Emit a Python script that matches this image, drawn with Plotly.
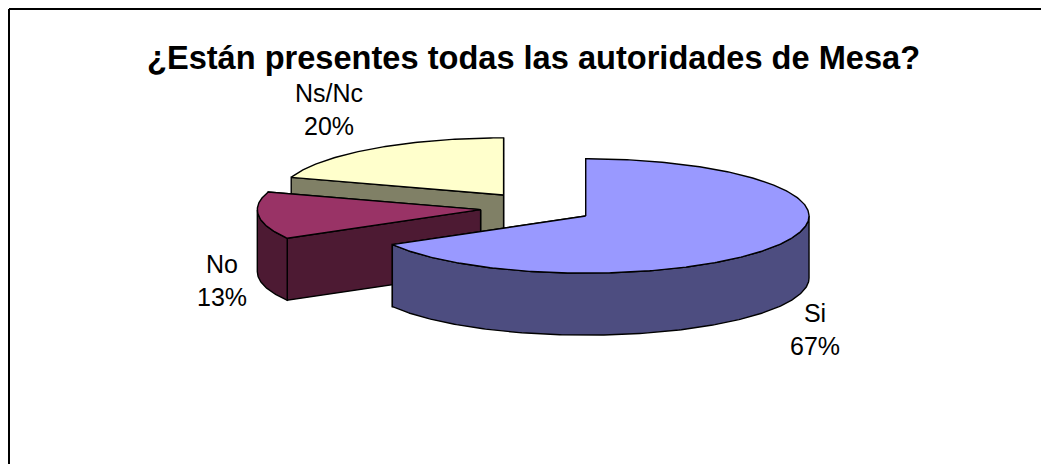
import math
import plotly.graph_objects as go

# ---- data ----
categories = ["Si", "No", "Ns/Nc"]
counts = [10, 2, 3]
title_text = "¿Están presentes todas las autoridades de Mesa?"

# ---- styles ----
top_colors = ["#9999FF", "#993366", "#FFFFCC"]
side_colors = ["#4D4D80", "#4D1A33", "#808066"]
label_centres = [(815, 329), (222, 280), (329, 109)]

# ---- projection of the 3-D pie onto the page (axes are page pixels) ----
CX, CY = 536.8, 208.0
RX, RY = 223.3, 57.2
DEPTH = 62.0
EXPLODE_X, EXPLODE_Y = 56.5, 16.0
PAGE_W, PAGE_H = 1049, 464
BODY = 8  # the page's own margin round the figure
W, H = PAGE_W - BODY, PAGE_H - BODY


def rim(apex, deg, drop=0.0):
    t = math.radians(deg)
    return apex[0] + RX * math.sin(t), apex[1] - RY * math.cos(t) + drop


def arc(apex, a0, a1, drop=0.0):
    n = max(2, int(abs(a1 - a0) * 1.5))
    return [rim(apex, a0 + (a1 - a0) * i / n, drop) for i in range(n + 1)]


def polygon(points, fill):
    xs = [p[0] for p in points] + [points[0][0]]
    ys = [p[1] for p in points] + [points[0][1]]
    return go.Scatter(x=xs, y=ys, mode="lines", fill="toself", fillcolor=fill,
                      line=dict(color="#000000", width=1.4), hoverinfo="skip",
                      showlegend=False)


fig = go.Figure()
total = sum(counts)
spans = []
start = 0.0
for v in counts:
    spans.append((start, start + 360.0 * v / total))
    start += 360.0 * v / total

# painter's order: back slice first, front slice last
for idx in sorted(range(len(counts)), reverse=True):
    a0, a1 = spans[idx]
    mid = math.radians((a0 + a1) / 2)
    apex = (CX + EXPLODE_X * math.sin(mid), CY - EXPLODE_Y * math.cos(mid))
    low = (apex[0], apex[1] + DEPTH)
    for a in (a1, a0):
        fig.add_trace(polygon([apex, rim(apex, a), rim(apex, a, DEPTH), low], side_colors[idx]))
    r0, r1 = max(a0, 90.0), min(a1, 270.0)
    if r1 > r0:
        fig.add_trace(polygon(arc(apex, r0, r1) + arc(apex, r1, r0, DEPTH), side_colors[idx]))
    fig.add_trace(polygon([apex] + arc(apex, a0, a1), top_colors[idx]))

FONT = "Liberation Sans, Arial, sans-serif"
annotations = [
    dict(x=533, y=57, xref="x", yref="y", text="<b>" + title_text + "</b>",
         showarrow=False, xanchor="center", yanchor="middle",
         font=dict(family=FONT, size=32.6, color="#000000"))
]
for name, v, (lx, ly) in zip(categories, counts, label_centres):
    annotations.append(dict(x=lx, y=ly, xref="x", yref="y",
                            text=f"{name}<br>{round(100 * v / total)}%",
                            showarrow=False, xanchor="center", yanchor="middle",
                            font=dict(family=FONT, size=25, color="#000000")))

frame = dict(color="#000000", width=2)
shapes = [
    dict(type="line", xref="x", yref="y", x0=9, x1=PAGE_W, y0=9, y1=9, line=frame),
    dict(type="line", xref="x", yref="y", x0=9, x1=9, y0=9, y1=PAGE_H, line=frame),
]

fig.update_layout(
    width=W, height=H, margin=dict(l=0, r=0, t=0, b=0, pad=0),
    paper_bgcolor="#FFFFFF", plot_bgcolor="#FFFFFF", showlegend=False,
    xaxis=dict(range=[BODY, PAGE_W], visible=False, fixedrange=True),
    yaxis=dict(range=[PAGE_H, BODY], visible=False, fixedrange=True),
    annotations=annotations, shapes=shapes,
)
fig.write_html("out.html", config={"displayModeBar": False})
